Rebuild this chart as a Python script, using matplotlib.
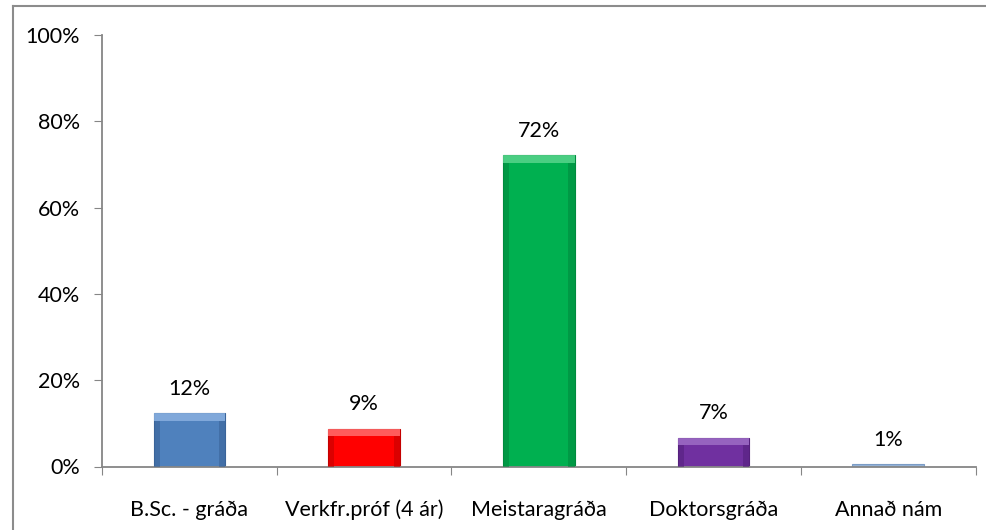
import matplotlib.pyplot as plt
from matplotlib.patches import Rectangle
import numpy as np

plt.rcParams['font.family'] = ['Lato', 'DejaVu Sans']

categories = ["B.Sc. - gráða", "Verkfr.próf (4 ár)", "Meistaragráða",
              "Doktorsgráða", "Annað nám"]
values = [12.3, 8.8, 72.2, 6.7, 0.5]
value_labels = ["12%", "9%", "72%", "7%", "1%"]
colors = ["#4f81bd", "#ff0000", "#00b050", "#7030a0", "#95b3d7"]
light_colors = ["#8db3e2", "#ff7373", "#5ed68f", "#a070c8", "#c6d9f1"]
dark_colors = ["#3a6499", "#c40000", "#008a3e", "#55207d", "#7b9cc6"]


def main():
    fig = plt.figure(figsize=(9.87, 5.30), dpi=100)
    W, H = 987, 530
    ax = fig.add_axes([102 / W, 1 - 466.5 / H, (975.5 - 102) / W, (466.5 - 35) / H])

    # outer chart border (only left/top visible in the reference)
    fig.add_artist(plt.Line2D([13.5 / W, 13.5 / W], [0, 1 - 6 / H],
                              transform=fig.transFigure, color="#8c8c8c", lw=1.5))
    fig.add_artist(plt.Line2D([13.5 / W, 1], [1 - 6 / H, 1 - 6 / H],
                              transform=fig.transFigure, color="#8c8c8c", lw=1.5))

    x = np.arange(len(categories))
    width = 0.41
    ax.bar(x, values, width=width, color=colors, edgecolor=dark_colors,
           linewidth=0.8, zorder=2)

    # bevel: light strip on top, darker strips on the sides
    for xi, v, lc, dc in zip(x, values, light_colors, dark_colors):
        if v < 1:
            continue
        side = 0.035
        top = min(1.8, v * 0.25)
        ax.add_patch(Rectangle((xi - width / 2, v - top), width, top,
                               facecolor=lc, lw=0, zorder=3, alpha=0.8))
        ax.add_patch(Rectangle((xi - width / 2, 0), side, v - top,
                               facecolor=dc, lw=0, zorder=3, alpha=0.6))
        ax.add_patch(Rectangle((xi + width / 2 - side, 0), side, v - top,
                               facecolor=dc, lw=0, zorder=3, alpha=0.6))

    for xi, v, lab in zip(x, values, value_labels):
        ax.text(xi, v + 3.3, lab, ha="center", va="bottom", fontsize=15.5,
                color="black")

    ax.set_xlim(-0.5, len(categories) - 0.5)
    ax.set_ylim(0, 100)
    ax.set_yticks(np.arange(0, 101, 20))
    ax.set_yticklabels([f"{t}%" for t in range(0, 101, 20)], fontsize=15.5)
    ax.set_xticks(np.arange(-0.5, len(categories), 1), minor=False)
    ax.set_xticklabels([])
    ax.set_xticks(x, minor=True)
    ax.set_xticklabels(categories, minor=True, fontsize=15.5)
    ax.tick_params(axis="x", which="minor", length=0, pad=24)
    ax.tick_params(axis="x", which="major", length=6, color="#868686")
    ax.tick_params(axis="y", length=6, color="#868686", pad=10)

    for side in ["top", "right"]:
        ax.spines[side].set_visible(False)
    for side in ["left", "bottom"]:
        ax.spines[side].set_color("#868686")
        ax.spines[side].set_linewidth(1.3)

    fig.savefig("out.png", dpi=100)


main()
